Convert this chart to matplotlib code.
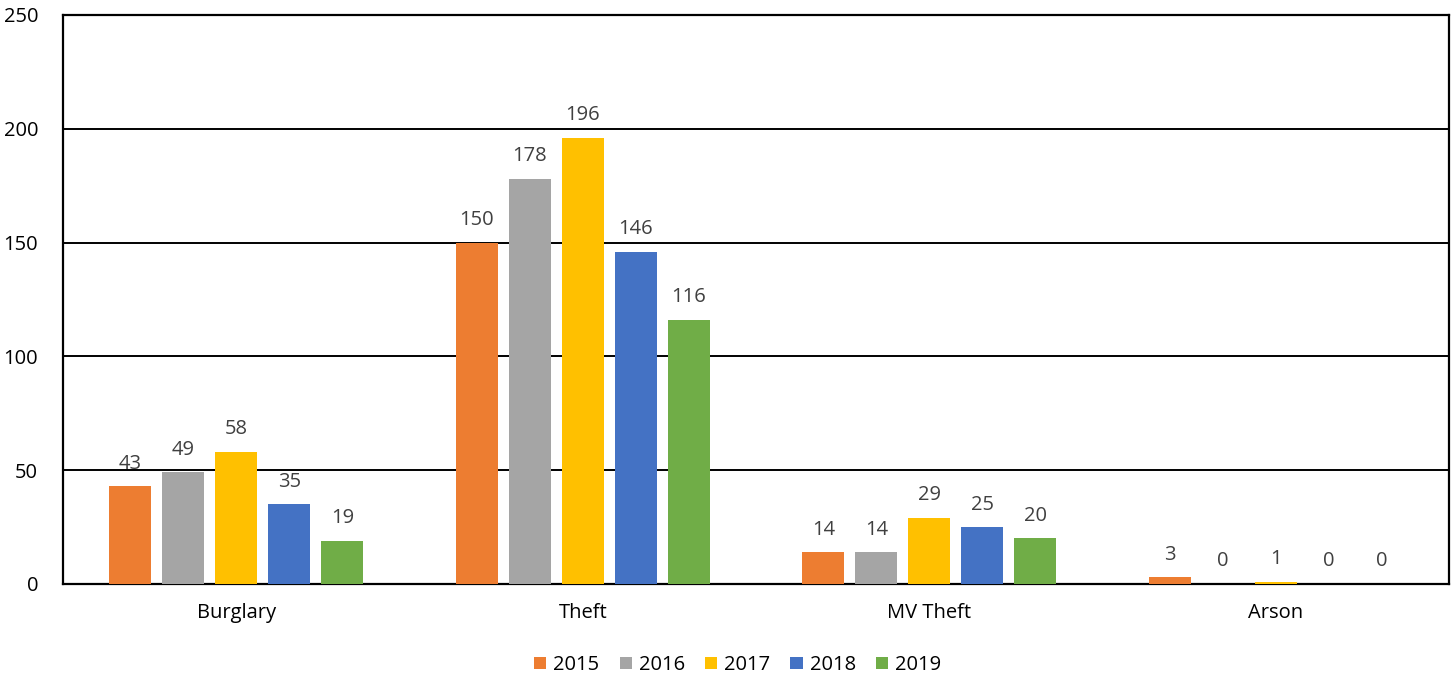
import matplotlib
matplotlib.use("Agg")
import matplotlib.pyplot as plt
from matplotlib.patches import Patch
import numpy as np

categories = ["Burglary", "Theft", "MV Theft", "Arson"]
years = ["2015", "2016", "2017", "2018", "2019"]
counts_2015 = [43, 150, 14, 3]
counts_2016 = [49, 178, 14, 0]
counts_2017 = [58, 196, 29, 1]
counts_2018 = [35, 146, 25, 0]
counts_2019 = [19, 116, 20, 0]
series = [counts_2015, counts_2016, counts_2017, counts_2018, counts_2019]
colors = ["#ED7D31", "#A5A5A5", "#FFC000", "#4472C4", "#70AD47"]

plt.rcParams['font.family'] = ['Open Sans', 'DejaVu Sans']
fs = 14.5

fig = plt.figure(figsize=(14.55, 6.8), dpi=100)
ax = fig.add_axes([0.0433, 0.1412, 0.9526, 0.8368])

x = np.arange(len(categories))
step = 0.153
width = 0.121
for i, (vals, col) in enumerate(zip(series, colors)):
    offs = (i - 2) * step
    bars = ax.bar(x + offs, vals, width=width, color=col, zorder=3)
    for b, v in zip(bars, vals):
        ax.text(b.get_x() + b.get_width() / 2, v + 5.5, str(v),
                ha='center', va='bottom', fontsize=fs, color='#404040', zorder=4)

ax.set_xlim(-0.5, len(categories) - 0.5)
ax.set_ylim(0, 250)
ax.set_yticks(range(0, 251, 50))
ax.set_xticks(x)
ax.set_xticklabels(categories)
ax.tick_params(axis='both', length=0, labelsize=fs, colors='black')
ax.tick_params(axis='x', pad=14)
ax.tick_params(axis='y', pad=18)
ax.yaxis.grid(True, color='black', linewidth=1.4, zorder=0)
for s in ax.spines.values():
    s.set_color('black')
    s.set_linewidth(1.6)

handles = [Patch(facecolor=c, edgecolor='none') for c in colors]
fig.legend(handles, years, loc='center', bbox_to_anchor=(0.507, 0.022),
           ncol=5, frameon=False, fontsize=fs, handlelength=0.6,
           handleheight=0.6, handletextpad=0.35, columnspacing=1.0)

fig.savefig("out.png", dpi=100)
